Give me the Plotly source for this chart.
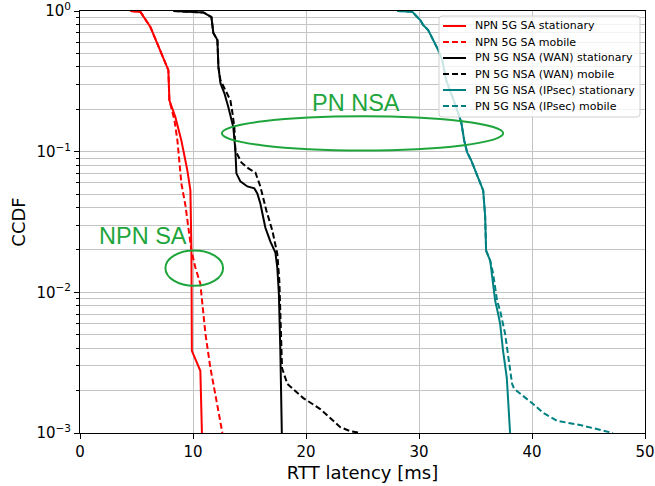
import plotly.graph_objects as go

# ---- data ----
npn_sa_stat_x = [4.47, 5.35, 6.23, 7.38, 7.82, 7.91, 8.44, 8.97, 9.50, 9.77, 9.86, 9.90, 10.65, 10.79]
npn_sa_stat_y = [1.0, 0.984, 0.769, 0.470, 0.380, 0.232, 0.176, 0.120, 0.0736, 0.053, 0.0198, 0.00384, 0.00277, 0.001]

npn_sa_mob_x = [4.47, 5.35, 6.23, 7.38, 7.82, 7.91, 8.36, 8.62, 8.80, 8.97, 9.33, 9.59, 9.86, 10.21, 10.65, 11.10, 11.54, 12.13, 12.6]
npn_sa_mob_y = [1.0, 0.984, 0.769, 0.470, 0.380, 0.232, 0.167, 0.120, 0.0867, 0.0595, 0.0415, 0.0299, 0.0198, 0.0150, 0.0115, 0.00507, 0.00290, 0.00161, 0.001]

wan_stat_x = [8.27, 10.92, 11.63, 11.80, 12.16, 12.25, 12.43, 12.78, 13.13, 13.57, 13.75, 13.84, 14.19, 14.81, 15.43, 15.69, 15.96, 16.40, 16.84, 17.29, 17.46, 17.60, 17.73, 17.86]
wan_stat_y = [1.0, 0.976, 0.906, 0.697, 0.621, 0.399, 0.307, 0.260, 0.207, 0.149, 0.102, 0.0701, 0.0615, 0.0566, 0.0548, 0.0505, 0.0428, 0.0289, 0.0230, 0.0192, 0.0150, 0.00978, 0.00384, 0.001]

wan_mob_x = [8.27, 10.92, 11.63, 11.80, 12.16, 12.25, 12.43, 12.86, 13.31, 13.48, 13.66, 13.75, 14.28, 14.90, 15.52, 15.96, 16.49, 17.02, 17.46, 17.64, 17.73, 17.88, 18.35, 19.76, 21.26, 22.24, 23.03, 23.92, 24.80]
wan_mob_y = [1.0, 0.976, 0.906, 0.697, 0.621, 0.399, 0.322, 0.274, 0.232, 0.191, 0.149, 0.102, 0.0839, 0.0760, 0.0712, 0.0566, 0.0382, 0.0275, 0.0188, 0.0121, 0.00659, 0.00290, 0.00223, 0.00177, 0.00148, 0.00126, 0.00110, 0.00103, 0.001]

ipsec_stat_x = [28.07, 29.40, 29.84, 30.11, 30.37, 30.81, 31.26, 31.70, 32.05, 32.41, 33.29, 33.74, 34.00, 34.26, 34.62, 35.23, 35.68, 35.85, 35.94, 36.30, 36.56, 36.74, 37.00, 37.18, 37.44, 37.77, 38.06]
ipsec_stat_y = [1.0, 0.989, 0.906, 0.863, 0.795, 0.732, 0.621, 0.527, 0.448, 0.322, 0.207, 0.162, 0.120, 0.0989, 0.0867, 0.0656, 0.0530, 0.0352, 0.0198, 0.0168, 0.0115, 0.00873, 0.00705, 0.00598, 0.00384, 0.00247, 0.001]

ipsec_mob_x = [28.07, 29.40, 29.84, 30.11, 30.37, 30.81, 31.26, 31.70, 32.05, 32.41, 33.29, 33.74, 34.00, 34.26, 34.62, 35.23, 35.68, 35.85, 35.94, 36.30, 36.56, 36.91, 37.18, 37.62, 37.89, 38.24, 38.42, 39.22, 40.10, 40.98, 42.22, 44.25, 45.40, 46.29, 47.17]
ipsec_mob_y = [1.0, 0.989, 0.906, 0.863, 0.795, 0.732, 0.621, 0.527, 0.448, 0.322, 0.207, 0.162, 0.120, 0.0989, 0.0867, 0.0656, 0.0530, 0.0352, 0.0198, 0.0168, 0.0136, 0.00873, 0.00740, 0.00507, 0.00342, 0.00223, 0.00206, 0.00184, 0.00161, 0.00139, 0.00122, 0.00114, 0.00108, 0.00103, 0.001]

series_names = ["NPN 5G SA stationary", "NPN 5G SA mobile",
                "PN 5G NSA (WAN) stationary", "PN 5G NSA (WAN) mobile",
                "PN 5G NSA (IPsec) stationary", "PN 5G NSA (IPsec) mobile"]

x_tick_vals = [0, 10, 20, 30, 40, 50]
y_tick_vals = [0.001, 0.01, 0.1, 1]
y_tick_text = ["10<sup>\u22123</sup>", "10<sup>\u22122</sup>", "10<sup>\u22121</sup>", "10<sup>0</sup>"]
y_minor_vals = [m * d for d in (0.001, 0.01, 0.1) for m in range(2, 10)]

# annotation groups (label, label x, label log10 y, ellipse x-range, ellipse log10 y-range)
groups = [
    ("PN NSA", 24.45, -0.652, (12.55, 37.45), (-0.991, -0.748)),
    ("NPN SA", 5.61, -1.600, (7.56, 12.66), (-1.953, -1.703)),
]

# ---- style ----
colors = ["#ff0000", "#ff0000", "#000000", "#000000", "#008080", "#008080"]
dashes = ["solid", "6px,3px", "solid", "6px,3px", "solid", "6px,3px"]
xs = [npn_sa_stat_x, npn_sa_mob_x, wan_stat_x, wan_mob_x, ipsec_stat_x, ipsec_mob_x]
ys = [npn_sa_stat_y, npn_sa_mob_y, wan_stat_y, wan_mob_y, ipsec_stat_y, ipsec_mob_y]
green = "#1ea53c"
grid = "#c4c4c4"

WIN_W, WIN_H = 655, 486
PLOT_L, PLOT_R, PLOT_T, PLOT_B = 80, 645, 11, 433   # plot area in window pixels


def paper_x(px):
    return (px - PLOT_L) / (PLOT_R - PLOT_L)


def paper_y(py):
    return (PLOT_B - py) / (PLOT_B - PLOT_T)


fig = go.Figure()
for name, x, y, c, d in zip(series_names, xs, ys, colors, dashes):
    fig.add_trace(go.Scatter(x=x, y=y, mode="lines", name=name, showlegend=False,
                             line=dict(color=c, width=2, dash=d)))

for label, lx, ly, (ex0, ex1), (ey0, ey1) in groups:
    # shapes on a log axis take data values; annotations take log10 values
    fig.add_shape(type="circle", xref="x", yref="y", x0=ex0, x1=ex1,
                  y0=10 ** ey0, y1=10 ** ey1, layer="above",
                  line=dict(color=green, width=2))
    fig.add_annotation(x=lx, y=ly, xref="x", yref="y", text=label, showarrow=False,
                       font=dict(family="Liberation Sans", size=23.5, color=green),
                       xanchor="center", yanchor="middle")

# legend box (matplotlib-style, rounded corners) drawn in the upper right corner
LEG_L, LEG_R, LEG_T, LEG_B = 439, 640, 16, 117
ROW0, ROW_STEP = 26, 16
SAMPLE_L, SAMPLE_R, TEXT_L = 443, 466, 473
RAD = 3
l, r, t, b = paper_x(LEG_L), paper_x(LEG_R), paper_y(LEG_T), paper_y(LEG_B)
rx = RAD / (PLOT_R - PLOT_L)
ry_ = RAD / (PLOT_B - PLOT_T)
legend_path = (f"M {l + rx} {t} L {r - rx} {t} Q {r} {t} {r} {t - ry_} "
               f"L {r} {b + ry_} Q {r} {b} {r - rx} {b} L {l + rx} {b} "
               f"Q {l} {b} {l} {b + ry_} L {l} {t - ry_} Q {l} {t} {l + rx} {t} Z")
fig.add_shape(type="path", xref="paper", yref="paper", path=legend_path,
              fillcolor="rgba(255,255,255,0.8)", line=dict(color="#d0d0d0", width=1),
              layer="above")
for i, (name, c, d) in enumerate(zip(series_names, colors, dashes)):
    rowy = paper_y(ROW0 + i * ROW_STEP)
    fig.add_shape(type="line", xref="paper", yref="paper",
                  x0=paper_x(SAMPLE_L), x1=paper_x(SAMPLE_R), y0=rowy, y1=rowy,
                  line=dict(color=c, width=2, dash=d), layer="above")
    fig.add_annotation(x=paper_x(TEXT_L), y=rowy, xref="paper", yref="paper", text=name,
                       showarrow=False, xanchor="left", yanchor="middle",
                       font=dict(family="DejaVu Sans", size=11, color="black"))

fig.update_layout(
    width=WIN_W, height=WIN_H,
    margin=dict(l=PLOT_L, r=WIN_W - PLOT_R, t=PLOT_T, b=WIN_H - PLOT_B),
    plot_bgcolor="white", paper_bgcolor="white",
    font=dict(family="DejaVu Sans", size=15, color="black"),
    showlegend=False,
    xaxis=dict(range=[0, 50], tickvals=x_tick_vals, ticks="outside", ticklen=5, tickwidth=1,
               tickcolor="black", showline=True, linecolor="black", linewidth=1, mirror=True,
               showgrid=True, gridcolor=grid, gridwidth=1, zeroline=False,
               automargin=False, ticklabeloverflow="allow",
               title=dict(text="RTT latency [ms]", standoff=6)),
    yaxis=dict(type="log", range=[-3, 0], tickvals=y_tick_vals, ticktext=y_tick_text,
               ticks="outside", ticklen=5, tickwidth=1, tickcolor="black",
               showline=True, linecolor="black", linewidth=1, mirror=True,
               showgrid=True, gridcolor=grid, gridwidth=1, zeroline=False,
               automargin=False, ticklabeloverflow="allow",
               minor=dict(tickmode="array", tickvals=y_minor_vals, ticks="outside", ticklen=3,
                          tickcolor="black", showgrid=True, gridcolor=grid, gridwidth=1),
               title=dict(text="CCDF", standoff=6)),
)

# remove the browser's default 8px body margin so the figure fills the window
fig.write_html("out.html", config={"displayModeBar": False},
               post_script="document.body.style.margin='0px';")
